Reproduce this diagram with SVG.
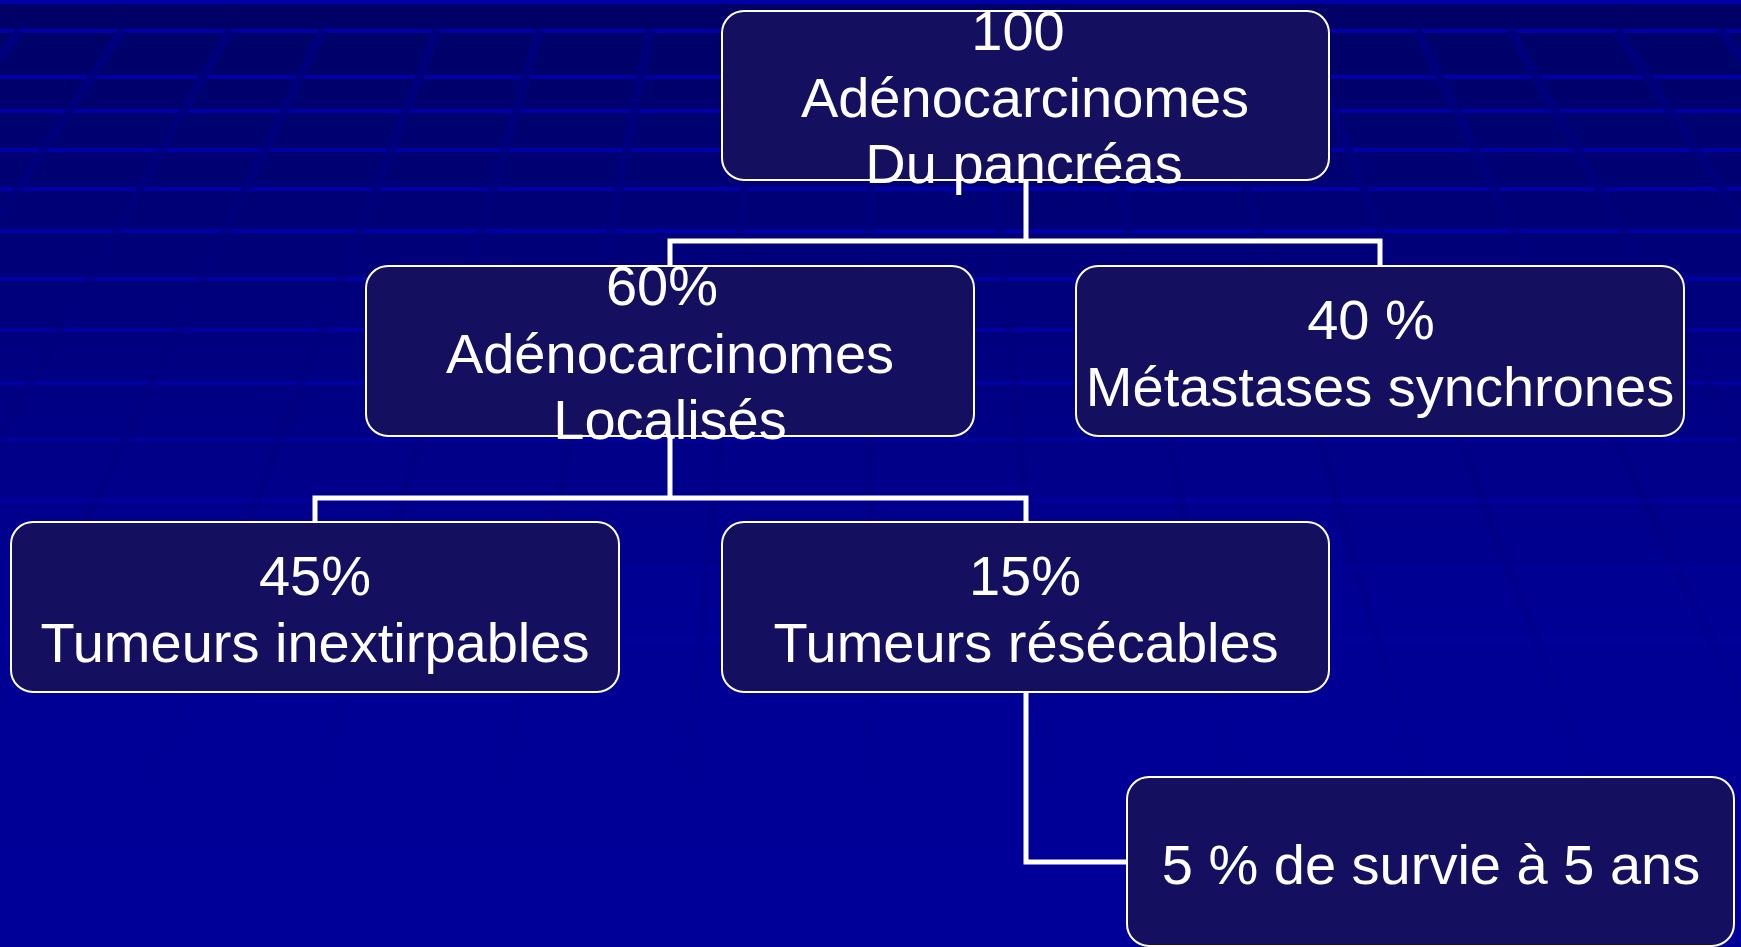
<svg xmlns="http://www.w3.org/2000/svg" width="1741" height="947" viewBox="0 0 1741 947">
<defs>
<linearGradient id="bg" x1="0" y1="0" x2="0" y2="1">
<stop offset="0" stop-color="#000066"/>
<stop offset="0.65" stop-color="#000094"/>
<stop offset="1" stop-color="#000099"/>
</linearGradient>
<linearGradient id="slant" gradientUnits="userSpaceOnUse" x1="0" y1="30" x2="0" y2="947">
<stop offset="0" stop-color="#00007E" stop-opacity="1"/>
<stop offset="0.45" stop-color="#00007E" stop-opacity="0.5"/>
<stop offset="0.85" stop-color="#00007E" stop-opacity="0"/>
</linearGradient>
<style>
.hl{stroke:#0000A8;stroke-width:4;fill:none}
.sl{stroke:url(#slant);stroke-width:9;fill:none}
.box{fill:#150F60;stroke:#FFFFFF;stroke-width:2}
.lbl{font-family:"Liberation Sans",Arial,sans-serif;font-size:56px;fill:#FFFFFF;text-anchor:middle}
.con{stroke:#FFFFFF;stroke-width:5;fill:none;stroke-linecap:square}
</style>
</defs>
<g id="background">
<rect x="0" y="0" width="1741" height="947" fill="url(#bg)"/>
<path class="hl" d="M0 2H1741M0 31H1741M0 77H1741M0 111H1741M0 150H1741M0 189H1741M0 231H1741M0 279H1741"/>
<path class="hl" opacity="0.85" d="M0 330H1741M0 383H1741"/>
<path class="hl" opacity="0.6" d="M0 440H1741M0 500H1741"/>
<path class="hl" opacity="0.35" d="M0 570H1741M0 640H1741"/>
<path class="sl" d="M20 30L-668 947M123 30L-482 947M230 30L-288 947M323 30L-120 947M437 30L86 947M540 30L272 947M650 30L471 947M760 30L671 947M870 30L870 947M980 30L1069 947M1090 30L1268 947M1200 30L1467 947M1303 30L1654 947M1417 30L1860 947M1510 30L2028 947M1617 30L2222 947M1720 30L2408 947"/>
</g>
<g id="connectors">
<path class="con" d="M1026 180V241M670 241H1380M670 241V266M1380 241V266"/>
<path class="con" d="M670 436V498M315 498H1026M315 498V522M1026 498V522"/>
<path class="con" d="M1026 692V862H1127"/>
</g>
<g id="n100">
<rect class="box" x="722" y="11" width="607" height="169" rx="22"/>
<text class="lbl" x="1018" y="50">100</text>
<text class="lbl" x="1025" y="117">Adénocarcinomes</text>
<text class="lbl" x="1024" y="183">Du pancréas</text>
</g>
<g id="n60">
<rect class="box" x="366" y="266" width="608" height="170" rx="22"/>
<text class="lbl" x="662" y="305">60%</text>
<text class="lbl" x="670" y="373">Adénocarcinomes</text>
<text class="lbl" x="670" y="439">Localisés</text>
</g>
<g id="n40">
<rect class="box" x="1076" y="266" width="608" height="170" rx="22"/>
<text class="lbl" x="1371" y="339">40 %</text>
<text class="lbl" x="1380" y="406">Métastases synchrones</text>
</g>
<g id="n45">
<rect class="box" x="11" y="522" width="608" height="170" rx="22"/>
<text class="lbl" x="315" y="595">45%</text>
<text class="lbl" x="315" y="662">Tumeurs inextirpables</text>
</g>
<g id="n15">
<rect class="box" x="722" y="522" width="607" height="170" rx="22"/>
<text class="lbl" x="1025" y="595">15%</text>
<text class="lbl" x="1026" y="662">Tumeurs résécables</text>
</g>
<g id="n5">
<rect class="box" x="1127" y="777" width="607" height="169" rx="22"/>
<text class="lbl" x="1431" y="884">5 % de survie à 5 ans</text>
</g>
</svg>
